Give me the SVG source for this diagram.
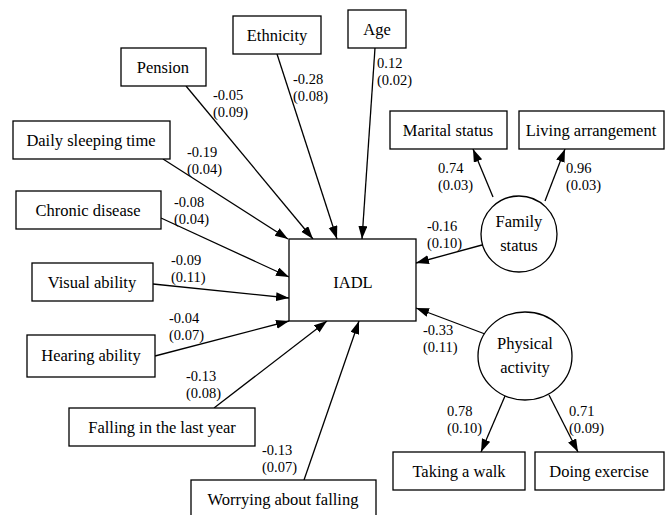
<svg xmlns="http://www.w3.org/2000/svg" width="665" height="515" viewBox="0 0 665 515" font-family="Liberation Serif, Times New Roman, serif" font-size="16.5">
<defs>
<style>
.box{fill:#fff;stroke:#000;stroke-width:1.3}
.c{text-anchor:middle}
.e{stroke:#000;stroke-width:1.3;fill:none;marker-end:url(#ah)}
#labels text{font-size:14.5px}
</style>
<marker id="ah" markerUnits="userSpaceOnUse" markerWidth="13" markerHeight="10" refX="13" refY="4.5" orient="auto">
<path d="M0,0 L13,4.5 L0,9 z" fill="#000"/>
</marker>
</defs>
<rect width="665" height="515" fill="#fff"/>
<g id="connectors">
<line class="e" x1="186" y1="86" x2="313" y2="239"/>
<line class="e" x1="277" y1="54" x2="337" y2="239"/>
<line class="e" x1="375" y1="48" x2="362" y2="239"/>
<line class="e" x1="163" y1="159" x2="288" y2="239"/>
<line class="e" x1="161" y1="218" x2="289" y2="277"/>
<line class="e" x1="153" y1="284" x2="289" y2="298"/>
<line class="e" x1="155" y1="356" x2="289" y2="321"/>
<line class="e" x1="214" y1="408" x2="327" y2="321"/>
<line class="e" x1="304" y1="480" x2="359" y2="321"/>
<line class="e" x1="482" y1="245" x2="416" y2="263"/>
<line class="e" x1="485" y1="334" x2="416" y2="308"/>
<line class="e" x1="493" y1="197" x2="473" y2="149"/>
<line class="e" x1="545" y1="201" x2="565" y2="149"/>
<line class="e" x1="505" y1="396" x2="481" y2="452"/>
<line class="e" x1="549" y1="395" x2="578" y2="452"/>
</g>
<g id="labels">
<text x="293" y="83.5">-0.28<tspan x="293" dy="17">(0.08)</tspan></text>
<text x="213" y="99.5">-0.05<tspan x="213" dy="17">(0.09)</tspan></text>
<text x="187" y="156.5">-0.19<tspan x="187" dy="17">(0.04)</tspan></text>
<text x="174" y="206.5">-0.08<tspan x="174" dy="17">(0.04)</tspan></text>
<text x="171" y="264.5">-0.09<tspan x="171" dy="17">(0.11)</tspan></text>
<text x="169" y="322.5">-0.04<tspan x="169" dy="17">(0.07)</tspan></text>
<text x="186" y="380.5">-0.13<tspan x="186" dy="17">(0.08)</tspan></text>
<text x="262" y="454.5">-0.13<tspan x="262" dy="17">(0.07)</tspan></text>
<text x="377" y="67.5">0.12<tspan x="377" dy="17">(0.02)</tspan></text>
<text x="438" y="172.5">0.74<tspan x="438" dy="17">(0.03)</tspan></text>
<text x="566" y="172.5">0.96<tspan x="566" dy="17">(0.03)</tspan></text>
<text x="427" y="230.5">-0.16<tspan x="427" dy="17">(0.10)</tspan></text>
<text x="423" y="334.5">-0.33<tspan x="423" dy="17">(0.11)</tspan></text>
<text x="447" y="415.5">0.78<tspan x="447" dy="17">(0.10)</tspan></text>
<text x="569" y="415.5">0.71<tspan x="569" dy="17">(0.09)</tspan></text>
</g>
<g id="iadl"><rect class="box" x="289" y="239" width="127" height="82"/><text class="c" x="353" y="288">IADL</text></g>
<g id="ethnicity"><rect class="box" x="233" y="16" width="88" height="38"/><text class="c" x="277" y="41">Ethnicity</text></g>
<g id="pension"><rect class="box" x="121" y="48" width="85" height="38"/><text class="c" x="163" y="73">Pension</text></g>
<g id="age"><rect class="box" x="348" y="10" width="58" height="38"/><text class="c" x="377" y="35">Age</text></g>
<g id="sleep"><rect class="box" x="13" y="121" width="157" height="38"/><text class="c" x="91" y="146">Daily sleeping time</text></g>
<g id="chronic"><rect class="box" x="16" y="191" width="145" height="38"/><text class="c" x="88" y="216">Chronic disease</text></g>
<g id="visual"><rect class="box" x="32" y="263" width="121" height="38"/><text class="c" x="92" y="288">Visual ability</text></g>
<g id="hearing"><rect class="box" x="27" y="335" width="128" height="42"/><text class="c" x="91" y="361">Hearing ability</text></g>
<g id="falling"><rect class="box" x="69" y="408" width="186" height="38"/><text class="c" x="162" y="433">Falling in the last year</text></g>
<g id="worrying"><rect class="box" x="191" y="480" width="185" height="45"/><text class="c" x="283" y="505">Worrying about falling</text></g>
<g id="marital"><rect class="box" x="390" y="111" width="117" height="38"/><text class="c" x="448" y="136">Marital status</text></g>
<g id="living"><rect class="box" x="519" y="111" width="145" height="38"/><text class="c" x="591" y="136">Living arrangement</text></g>
<g id="family"><circle class="box" cx="519" cy="234" r="38"/><text class="c" x="519" y="227">Family<tspan x="519" dy="24">status</tspan></text></g>
<g id="physical"><ellipse class="box" cx="525" cy="356" rx="47" ry="44"/><text class="c" x="525" y="349">Physical<tspan x="525" dy="24">activity</tspan></text></g>
<g id="walk"><rect class="box" x="393" y="452" width="132" height="38"/><text class="c" x="459" y="477">Taking a walk</text></g>
<g id="exercise"><rect class="box" x="535" y="452" width="129" height="38"/><text class="c" x="599" y="477">Doing exercise</text></g>
</svg>
